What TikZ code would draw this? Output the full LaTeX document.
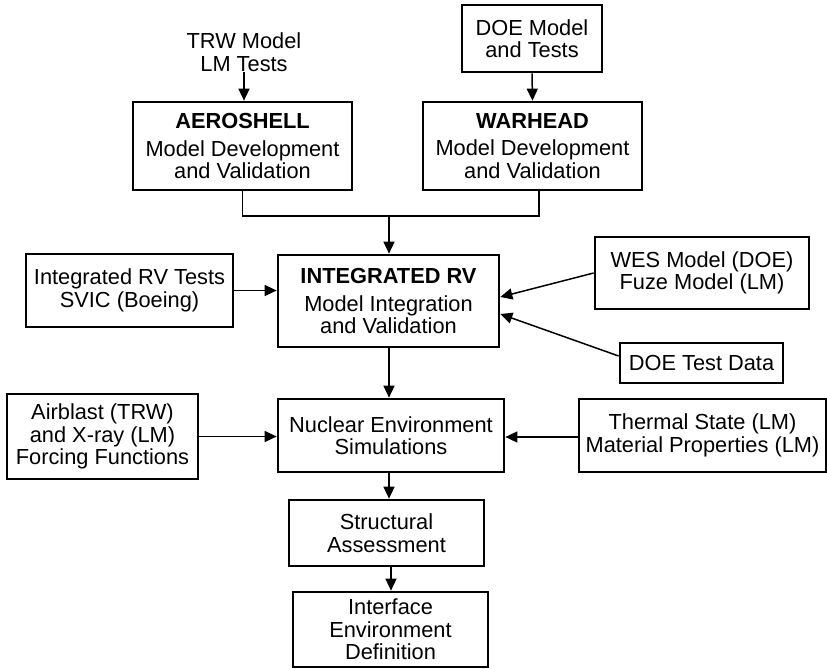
\documentclass[tikz,border=0pt]{standalone}
\usepackage{fontspec}
\setmainfont{Liberation Sans}
\usetikzlibrary{arrows.meta,calc}
\begin{document}
\begin{tikzpicture}[x=1pt,y=-1pt,
  every node/.style={font=\fontsize{21.8}{22.5}\selectfont, align=center, text=black},
  box/.style={draw=black, line width=2.7pt, inner sep=0pt, anchor=center},
  plain/.style={inner sep=1pt},
  arr/.style={line width=1.5pt, -{Triangle[length=12pt,width=11pt]}},
  conn/.style={line width=1.5pt}]
\useasboundingbox (0,0) rectangle (827,669);
% nodes
\node[plain] (trw) at (244,52) {TRW Model\\LM Tests};
\node[box, minimum width=140pt, minimum height=67pt] (doe) at (532,38.5) {DOE Model\\and Tests};
\node[box, minimum width=219pt, minimum height=88pt] (aero) at (242.5,146) {\textbf{AEROSHELL}\\[5pt]Model Development\\and Validation};
\node[box, minimum width=219pt, minimum height=88pt] (war) at (532.5,146) {\textbf{WARHEAD}\\[5pt]Model Development\\and Validation};
\node[box, minimum width=207pt, minimum height=73pt] (irvt) at (129.5,290.5) {Integrated RV Tests\\SVIC (Boeing)};
\node[box, minimum width=221pt, minimum height=92pt] (int) at (388.5,301) {\textbf{INTEGRATED RV}\\[5pt]Model Integration\\and Validation};
\node[box, minimum width=214pt, minimum height=72pt] (wes) at (702,273) {WES Model (DOE)\\Fuze Model (LM)};
\node[box, minimum width=163pt, minimum height=40pt] (dtd) at (701.5,363) {DOE Test Data};
\node[box, minimum width=191pt, minimum height=85pt] (air) at (102.5,436.5) {Airblast (TRW)\\and X-ray (LM)\\Forcing Functions};
\node[box, minimum width=226pt, minimum height=73pt] (nuc) at (391,435.5) {Nuclear Environment\\Simulations};
\node[box, minimum width=247pt, minimum height=73pt] (th) at (702.5,435.5) {Thermal State (LM)\\Material Properties (LM)};
\node[box, minimum width=195pt, minimum height=66pt] (str) at (386.5,533) {Structural\\Assessment};
\node[box, minimum width=195pt, minimum height=75pt] (ied) at (390.5,629.5) {Interface\\Environment\\Definition};
% connectors
\coordinate (j) at (389,216);
\draw[arr] (trw.south) -- (aero.north -| trw.south);
\draw[arr] (doe.south) -- (war.north);
\draw[conn] (aero.south) |- (j) -| ([xshift=6.5pt]war.south);
\draw[arr] (j) -- (int.north -| j);
\draw[arr] (irvt.east) -- (irvt.east -| int.west);
\draw[arr] (wes.west) -- ([yshift=4pt]int.east);
\draw[arr] ([yshift=7pt]dtd.west) -- ([yshift=-13pt]int.east);
\draw[arr] (int.south -| j) -- (nuc.north -| j);
\draw[arr] (air.east) -- (air.east -| nuc.west);
\draw[arr] ([yshift=-1.5pt]th.west) -- ([yshift=-1.5pt]th.west -| nuc.east);
\draw[arr] (nuc.south -| j) -- (str.north -| j);
\draw[arr] ([xshift=4.5pt]str.south) -- ([xshift=4.5pt]str.south |- ied.north);
\end{tikzpicture}
\end{document}
